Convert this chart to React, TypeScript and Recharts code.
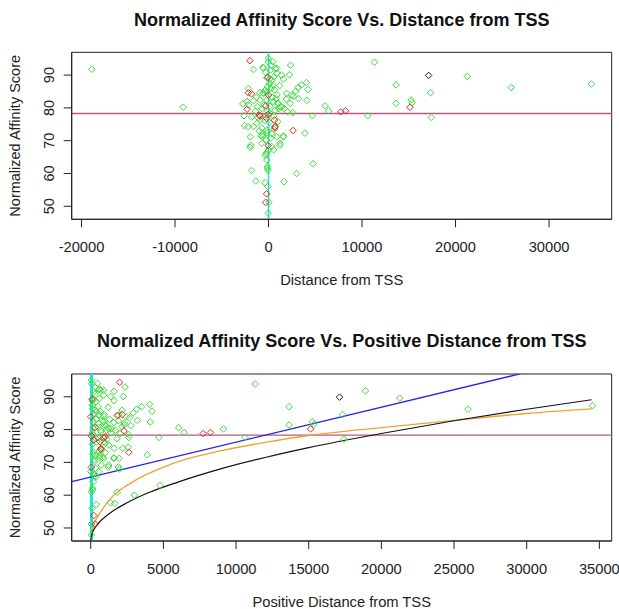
import React from 'react';
import {
  ComposedChart,
  Scatter,
  Line,
  XAxis,
  YAxis,
  ReferenceLine,
  ReferenceArea,
} from 'recharts';

const FONT = '"Liberation Sans", Arial, Helvetica, sans-serif';

// [distance from TSS, normalized affinity score]
const greenPoints: [number, number][] = [
  [-18900, 91.8], [-9130, 80.2], [11330, 93.9], [13650, 87.0], [13650, 81.4],
  [15250, 82.4], [15350, 81.6], [17330, 84.6], [17420, 77.1], [21260, 89.6],
  [25950, 86.2], [34530, 87.3], [10610, 77.6], [6050, 80.6], [6430, 79.1],
  [4690, 77.6], [4770, 63.0], [3000, 60.0], [1650, 57.5], [3890, 72.3],
  [1600, 71.4], [1220, 68.6], [550, 67.2], [2360, 93.0], [2240, 90.1],
  [1600, 88.8], [3500, 87.0], [4050, 87.7], [4220, 85.6], [2920, 85.1],
  [2660, 83.6], [3210, 82.8], [4100, 82.3], [1900, 82.7], [2030, 78.8],
  [890, 92.0], [460, 94.1], [-40, 95.1], [-1610, 91.7], [-550, 92.2],
  [-2160, 85.9], [-2750, 81.2], [-2620, 77.6], [-2580, 74.6], [-2200, 74.3],
  [-1950, 71.2], [-1900, 68.6], [-1970, 68.0], [-1820, 60.9], [-1360, 57.7],
  [-380, 57.2], [-90, 56.0], [40, 51.2], [-40, 47.9], [-130, 61.6],
  [-50, 61.0], [-260, 65.9], [-200, 66.4], [-620, 71.4], [1380, 90.0],
  [3170, 86.2], [2450, 83.9], [1920, 84.4], [-930, 84.6], [-580, 84.6],
  [-2300, 82.0], [-1600, 82.2], [950, 81.4], [1400, 80.3], [-2150, 80.9],
  [-610, 92.3], [706, 92.0], [890, 90.5], [600, 89.5], [350, 88.5],
  [100, 87.5], [-120, 86.4], [-360, 85.4], [-540, 84.4], [-900, 82.4],
  [-180, 82.4], [520, 81.9], [1060, 81.4], [1240, 80.3], [706, 79.3],
  [170, 78.3], [-360, 77.3], [-900, 76.3], [-1250, 75.3], [-1610, 74.3],
  [-720, 73.8], [-180, 73.2], [350, 72.2], [890, 71.2], [-260, 70.2],
  [-720, 69.2], [350, 68.2], [-10, 67.2], [-360, 65.6], [-180, 64.1],
  [-120, 62.1], [1240, 69.2], [1600, 71.2], [2310, 81.4], [200, 91.5],
  [-300, 90.8], [500, 87.0], [300, 86.0], [-200, 84.8], [650, 85.5],
  [900, 84.0], [400, 83.2], [-500, 80.8], [-700, 79.8], [150, 80.5],
  [-100, 79.0], [550, 77.5], [-400, 76.2], [100, 75.5], [-1100, 77.0],
  [-1400, 79.0], [-1200, 80.4], [-1800, 77.2], [-1000, 73.0], [-600, 72.0],
  [250, 70.8], [-150, 72.5], [-800, 71.5], [600, 73.5], [1000, 75.8],
  [1100, 79.8], [800, 82.8], [-1300, 83.2], [1200, 86.8], [-200, 89.2],
  [300, 93.0], [-50, 94.0], [100, 88.8], [1700, 79.8], [2600, 78.5],
];

const redPoints: [number, number][] = [
  [-1990, 94.4], [-2160, 84.6], [-1820, 84.3], [-2290, 79.6], [-210, 53.8],
  [-300, 51.2], [-40, 68.5], [630, 76.3], [720, 74.3], [680, 74.0],
  [-890, 77.5], [-1000, 77.8], [-300, 80.6], [0, 83.9], [-90, 89.3],
  [2620, 73.1], [7730, 78.8], [8240, 79.1], [15130, 80.2], [-200, 76.8],
  [-60, 78.0],
];

const blackPoints: [number, number][] = [[17120, 89.9]];

// fitted curves: [positive distance, score]
const blueFit: [number, number][] = [[-1310, 64.1], [29540, 97.0]];
const blackFit: [number, number][] = [
  [0, 46.1], [100, 48.4], [300, 50.1], [600, 51.8], [1000, 53.4], [1500, 55.1],
  [2500, 57.7], [4000, 60.8], [6000, 64.0], [9000, 68.1], [12000, 71.5],
  [15000, 74.5], [20000, 78.8], [25000, 82.7], [30000, 86.2], [34470, 89.1],
];
const orangeFit: [number, number][] = [
  [60, 47.0], [100, 48.6], [200, 51.0], [400, 52.8], [700, 55.0], [1100, 57.6],
  [1800, 60.9], [2500, 63.0], [3500, 65.6], [4800, 68.2], [6500, 70.9],
  [8900, 73.5], [12000, 76.1], [15000, 78.2], [20000, 80.6], [25000, 82.8],
  [30000, 84.9], [34470, 86.3],
];

const topXTicks = [-20000, -10000, 0, 10000, 20000, 30000];
const bottomXTicks = [0, 5000, 10000, 15000, 20000, 25000, 30000, 35000];
const yTicks = [50, 60, 70, 80, 90];
const cutoff = 78.3;

const topXDomain: [number, number] = [-21050, 36700];
const bottomXDomain: [number, number] = [-1310, 35850];
const yDomain: [number, number] = [46.03, 96.95];

const GREEN = '#3ddc3d';
const RED = '#dd2a2a';
const BLACK = '#222';

const toXY = (pts: [number, number][], abs = false) =>
  pts.map(([d, s]) => ({ x: abs ? Math.abs(d) : d, y: s }));

const diamond = (color: string) => (props: any) => {
  const { cx, cy } = props;
  if (cx == null || cy == null) return null;
  const r = 3.3;
  return (
    <path
      d={`M${cx},${cy - r}L${cx + r},${cy}L${cx},${cy + r}L${cx - r},${cy}Z`}
      fill="none"
      stroke={color}
      strokeWidth={1}
    />
  );
};

const YTick = (props: any) => {
  const { x, y, payload } = props;
  return (
    <text
      x={x}
      y={y}
      transform={`rotate(-90, ${x}, ${y})`}
      textAnchor="middle"
      fontSize={14.5}
      fontFamily={FONT}
      fill="#222"
    >
      {payload.value}
    </text>
  );
};

const YTitle = (props: any) => {
  const { viewBox } = props;
  const cy = viewBox.y + viewBox.height / 2;
  return (
    <text
      x={20}
      y={cy}
      transform={`rotate(-90, 20, ${cy})`}
      textAnchor="middle"
      fontSize={14.5}
      fontFamily={FONT}
      fill="#222"
    >
      Normalized Affinity Score
    </text>
  );
};

const XTitle = (props: any) => {
  const { viewBox, text } = props;
  return (
    <text
      x={viewBox.x + viewBox.width / 2}
      y={viewBox.y + 65.5}
      textAnchor="middle"
      fontSize={14.7}
      fontFamily={FONT}
      fill="#222"
    >
      {text}
    </text>
  );
};

const Title = ({ text, top }: { text: string; top: number }) => (
  <div
    style={{
      position: 'absolute',
      left: 71.7,
      width: 540,
      top,
      height: 20,
      lineHeight: '20px',
      textAlign: 'center',
      fontFamily: FONT,
      fontWeight: 'bold',
      fontSize: 18,
      color: '#111',
      whiteSpace: 'nowrap',
    }}
  >
    {text}
  </div>
);

const tickStyle = { fontSize: 14.7, fontFamily: FONT, fill: '#222' };

export default function App() {
  return (
    <div
      style={{
        position: 'absolute',
        left: 0,
        top: 0,
        width: 619,
        height: 609,
        background: '#fff',
        overflow: 'hidden',
      }}
    >
      <Title text="Normalized Affinity Score Vs. Distance from TSS" top={10} />
      <div style={{ position: 'absolute', left: 0, top: 0 }}>
        <ComposedChart
          width={619}
          height={300}
          margin={{ top: 52.3, right: 7.3, bottom: 20.7, left: 0 }}
        >
          <XAxis
            type="number"
            dataKey="x"
            domain={topXDomain}
            ticks={topXTicks}
            allowDataOverflow
            height={60}
            tick={tickStyle}
            tickSize={8}
            tickMargin={14.5}
            tickLine={{ stroke: '#222' }}
            axisLine={{ stroke: '#222' }}
            label={<XTitle text="Distance from TSS" />}
          />
          <YAxis
            type="number"
            dataKey="y"
            domain={yDomain}
            ticks={yTicks}
            allowDataOverflow
            width={71.7}
            tick={<YTick />}
            tickSize={8}
            tickMargin={9.2}
            tickLine={{ stroke: '#222' }}
            axisLine={{ stroke: '#222' }}
            label={<YTitle />}
          />
          <ReferenceArea
            x1={topXDomain[0]}
            x2={topXDomain[1]}
            y1={yDomain[0]}
            y2={yDomain[1]}
            fill="none"
            stroke="#222"
            strokeWidth={1}
            ifOverflow="visible"
          />
          <Scatter data={toXY(greenPoints)} shape={diamond(GREEN)} isAnimationActive={false} />
          <Scatter data={toXY(redPoints)} shape={diamond(RED)} isAnimationActive={false} />
          <Scatter data={toXY(blackPoints)} shape={diamond(BLACK)} isAnimationActive={false} />
          <ReferenceLine y={cutoff} stroke="#b8577f" strokeWidth={1.6} />
          <ReferenceLine x={0} stroke="#22dede" strokeWidth={1.5} />
        </ComposedChart>
      </div>

      <Title text="Normalized Affinity Score Vs. Positive Distance from TSS" top={331} />
      <div style={{ position: 'absolute', left: 0, top: 300 }}>
        <ComposedChart
          width={619}
          height={309}
          margin={{ top: 74, right: 7.3, bottom: 8, left: 0 }}
        >
          <XAxis
            type="number"
            dataKey="x"
            domain={bottomXDomain}
            ticks={bottomXTicks}
            allowDataOverflow
            height={60}
            tick={tickStyle}
            tickSize={8}
            tickMargin={15}
            tickLine={{ stroke: '#222' }}
            axisLine={{ stroke: '#222' }}
            label={<XTitle text="Positive Distance from TSS" />}
          />
          <YAxis
            type="number"
            dataKey="y"
            domain={yDomain}
            ticks={yTicks}
            allowDataOverflow
            width={71.7}
            tick={<YTick />}
            tickSize={8}
            tickMargin={9.2}
            tickLine={{ stroke: '#222' }}
            axisLine={{ stroke: '#222' }}
            label={<YTitle />}
          />
          <ReferenceArea
            x1={bottomXDomain[0]}
            x2={bottomXDomain[1]}
            y1={yDomain[0]}
            y2={yDomain[1]}
            fill="none"
            stroke="#222"
            strokeWidth={1}
            ifOverflow="visible"
          />
          <Scatter data={toXY(greenPoints, true)} shape={diamond(GREEN)} isAnimationActive={false} />
          <Scatter data={toXY(redPoints, true)} shape={diamond(RED)} isAnimationActive={false} />
          <Scatter data={toXY(blackPoints, true)} shape={diamond(BLACK)} isAnimationActive={false} />
          <ReferenceLine y={cutoff} stroke="#b8577f" strokeWidth={1.2} />
          <ReferenceLine x={50} stroke="#22e4e4" strokeWidth={3} />
          <Line
            data={toXY(blueFit)}
            dataKey="y"
            type="linear"
            stroke="#2323e6"
            strokeWidth={1.3}
            dot={false}
            isAnimationActive={false}
          />
          <Line
            data={toXY(orangeFit)}
            dataKey="y"
            type="monotone"
            stroke="#f2a22c"
            strokeWidth={1.3}
            dot={false}
            isAnimationActive={false}
          />
          <Line
            data={toXY(blackFit)}
            dataKey="y"
            type="monotone"
            stroke="#111"
            strokeWidth={1.2}
            dot={false}
            isAnimationActive={false}
          />
        </ComposedChart>
      </div>
    </div>
  );
}
